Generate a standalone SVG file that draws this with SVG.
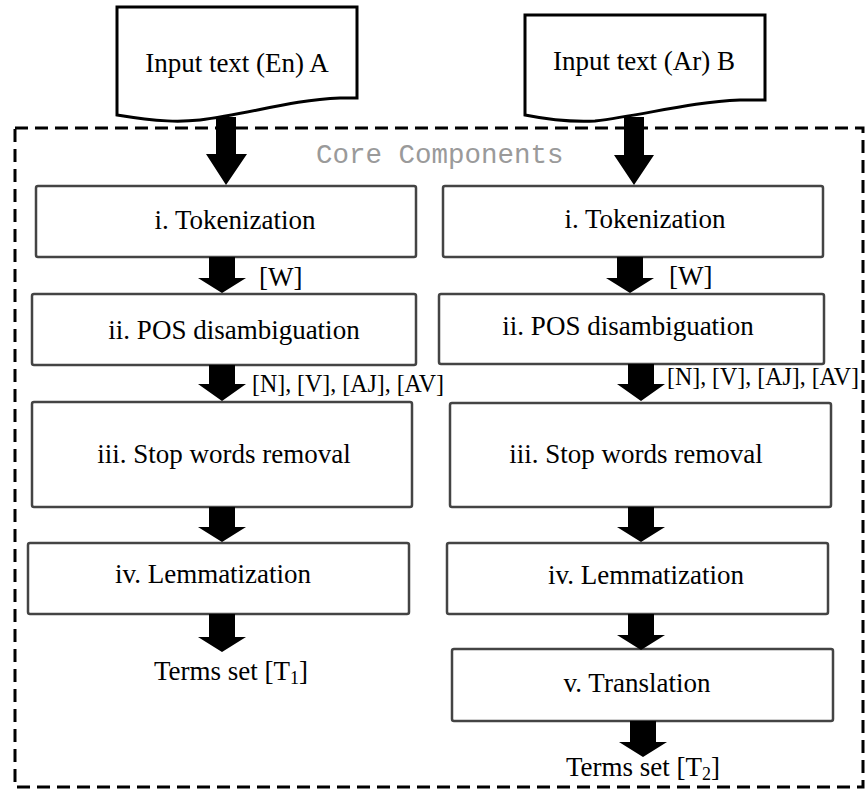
<svg xmlns="http://www.w3.org/2000/svg" width="865" height="790" viewBox="0 0 865 790">
<style>
.box{fill:#fff;stroke:#444;stroke-width:2.5}
.doc{fill:#fff;stroke:#000;stroke-width:3}
.t{font-family:"Liberation Serif","Times New Roman",serif;font-size:27px;fill:#000;text-anchor:middle}
.l{font-family:"Liberation Serif","Times New Roman",serif;font-size:27px;fill:#000}
.lab{font-family:"Liberation Serif","Times New Roman",serif;font-size:26px;fill:#000}
.core{font-family:"Liberation Mono","Courier New",monospace;font-size:27.5px;fill:#9a9a9a}
.arr{fill:#000}
</style>
<rect width="865" height="790" fill="#fff"/>
<rect x="15" y="128" width="848" height="659" fill="none" stroke="#000" stroke-width="3" stroke-dasharray="13 7"/>
<text class="core" x="316" y="163">Core Components</text>

<g id="docA">
<path class="doc" d="M117,115 L117,7 L357,7 L357,98 L340,98 C290,100 250,114 200,120 C180,122 160,122 117,115 Z"/>
<text class="t" x="237" y="72">Input text (En) A</text>
</g>
<g id="docB">
<path class="doc" d="M525,115 L525,15 L765,15 L765,100 L740,100 C690,102 645,115 595,121 C575,122 555,121 525,115 Z"/>
<text class="t" x="644" y="70">Input text (Ar) B</text>
</g>

<g id="tokA">
<rect class="box" x="36" y="186" width="380" height="71" rx="2"/>
<text class="t" x="235" y="229">i. Tokenization</text>
</g>
<g id="posA">
<rect class="box" x="32" y="294" width="384" height="71" rx="2"/>
<text class="t" x="234" y="339">ii. POS disambiguation</text>
</g>
<g id="stopA">
<rect class="box" x="32" y="402" width="380" height="105" rx="2"/>
<text class="t" x="224" y="463">iii. Stop words removal</text>
</g>
<g id="lemA">
<rect class="box" x="28" y="543" width="381" height="71" rx="2"/>
<text class="t" x="213" y="583">iv. Lemmatization</text>
</g>
<g id="termsA">
<text class="t" x="231" y="680">Terms set [T<tspan font-size="18" dy="4">1</tspan><tspan dy="-4">]</tspan></text>
</g>

<g id="tokB">
<rect class="box" x="443" y="186" width="380" height="71" rx="2"/>
<text class="t" x="645" y="228">i. Tokenization</text>
</g>
<g id="posB">
<rect class="box" x="439" y="294" width="385" height="70" rx="2"/>
<text class="t" x="628" y="335">ii. POS disambiguation</text>
</g>
<g id="stopB">
<rect class="box" x="450" y="403" width="381" height="104" rx="2"/>
<text class="t" x="636" y="463">iii. Stop words removal</text>
</g>
<g id="lemB">
<rect class="box" x="447" y="543" width="381" height="71" rx="2"/>
<text class="t" x="646" y="584">iv. Lemmatization</text>
</g>
<g id="transB">
<rect class="box" x="452" y="649" width="381" height="72" rx="2"/>
<text class="t" x="637" y="692">v. Translation</text>
</g>
<g id="termsB">
<text class="t" x="643" y="776">Terms set [T<tspan font-size="18" dy="4">2</tspan><tspan dy="-4">]</tspan></text>
</g>

<g id="connectors">
<polygon class="arr" points="216,117 236,117 236,154 247,154 226,185 206,154 216,154"/>
<polygon class="arr" points="624,117 644,117 644,155 654,155 634,185 614,155 624,155"/>
<polygon class="arr" points="209,257 235,257 235,278 246,278 222,293 198,278 209,278"/>
<polygon class="arr" points="209,365 235,365 235,384 246,384 222,401 198,384 209,384"/>
<polygon class="arr" points="209,507 235,507 235,527 246,527 222,542 198,527 209,527"/>
<polygon class="arr" points="209,614 235,614 235,637 246,637 222,652 198,637 209,637"/>
<polygon class="arr" points="617,257 643,257 643,278 654,278 630,293 606,278 617,278"/>
<polygon class="arr" points="628,364 654,364 654,384 665,384 641,401 617,384 628,384"/>
<polygon class="arr" points="628,507 654,507 654,527 665,527 641,542 617,527 628,527"/>
<polygon class="arr" points="628,614 654,614 654,635 665,635 641,650 617,635 628,635"/>
<polygon class="arr" points="630,721 656,721 656,742 667,742 643,757 619,742 630,742"/>
<text class="l" x="259" y="286">[W]</text>
<text class="lab" x="252" y="392" textLength="192" lengthAdjust="spacingAndGlyphs">[N], [V], [AJ], [AV]</text>
<text class="l" x="669" y="285">[W]</text>
<text class="lab" x="667" y="385" textLength="192" lengthAdjust="spacingAndGlyphs">[N], [V], [AJ], [AV]</text>
</g>
</svg>
